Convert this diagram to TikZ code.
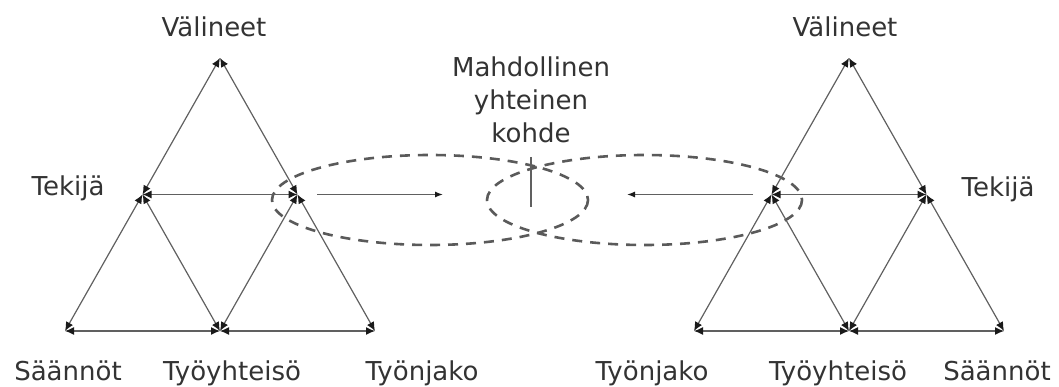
\documentclass[tikz,border=0pt]{standalone}
\usepackage{fontspec}
\setmainfont{DejaVu Sans}
\usetikzlibrary{arrows.meta}
\definecolor{lc}{HTML}{606060}
\definecolor{dc}{HTML}{5A5A5A}
\definecolor{tc}{HTML}{333333}
\definecolor{ac}{HTML}{1A1A1A}
\begin{document}
\begin{tikzpicture}[x=1pt,y=-1pt,
  edge/.style={draw=lc,line width=1.2pt,{Latex[length=9pt,width=8pt,color=ac]}-{Latex[length=9pt,width=8pt,color=ac]}},
  oneway/.style={draw=lc,line width=1.2pt,-{Latex[length=8pt,width=6pt,color=ac]}},
  dashring/.style={draw=dc,line width=2.6pt,dash pattern=on 10pt off 8pt},
  lbl/.style={font=\fontsize{26}{33}\selectfont,text=tc,inner sep=0pt,anchor=base}]
\useasboundingbox (0,0) rectangle (1059,387);
% left system
\coordinate (lA) at (220,58);
\coordinate (lT) at (142.5,194.5);
\coordinate (lK) at (297.5,194.5);
\coordinate (lS) at (65,331);
\coordinate (lY) at (220,331);
\coordinate (lJ) at (375,331);
% right system
\coordinate (rA) at (849,58);
\coordinate (rK) at (771.5,194.5);
\coordinate (rT) at (926.5,194.5);
\coordinate (rJ) at (694,331);
\coordinate (rY) at (849,331);
\coordinate (rS) at (1004,331);
% dashed ellipses
\draw[dashring] (430,200) ellipse [x radius=158,y radius=45];
\draw[dashring] (644.5,200) ellipse [x radius=157.5,y radius=45];
% edges
\foreach \p in {l,r}{
  \draw[edge] (\p A) -- (\p T);
  \draw[edge] (\p A) -- (\p K);
  \draw[edge] (\p T) -- (\p K);
  \draw[edge] (\p T) -- (\p S);
  \draw[edge] (\p T) -- (\p Y);
  \draw[edge] (\p K) -- (\p Y);
  \draw[edge] (\p K) -- (\p J);
  \draw[edge] (\p S) -- (\p Y);
  \draw[edge] (\p Y) -- (\p J);
}
% object arrows
\coordinate (la1) at (317,194.5);
\coordinate (la2) at (443,194.5);
\coordinate (ra1) at (753,194.5);
\coordinate (ra2) at (627,194.5);
\draw[oneway] (la1) -- (la2);
\draw[oneway] (ra1) -- (ra2);
\coordinate (v1) at (531,157);
\coordinate (v2) at (531,207);
\draw[draw=lc,line width=1.2pt] (v1) -- (v2);
% labels
\node[lbl] (lVal) at (214,37) {Välineet};
\node[lbl] (lTek) at (68,196) {Tekijä};
\node[lbl] (lSaa) at (68,380) {Säännöt};
\node[lbl] (lTyo) at (232,380) {Työyhteisö};
\node[lbl] (lJak) at (422,380) {Työnjako};
\node[lbl] (rJak) at (652,380) {Työnjako};
\node[lbl] (rTyo) at (838,380) {Työyhteisö};
\node[lbl] (rSaa) at (997,380) {Säännöt};
\node[lbl] (rTek) at (998,197) {Tekijä};
\node[lbl] (rVal) at (845,37) {Välineet};
\node[lbl,align=center,anchor=north] (obj) at (531,57) {Mahdollinen\\yhteinen\\kohde};
\end{tikzpicture}
\end{document}
